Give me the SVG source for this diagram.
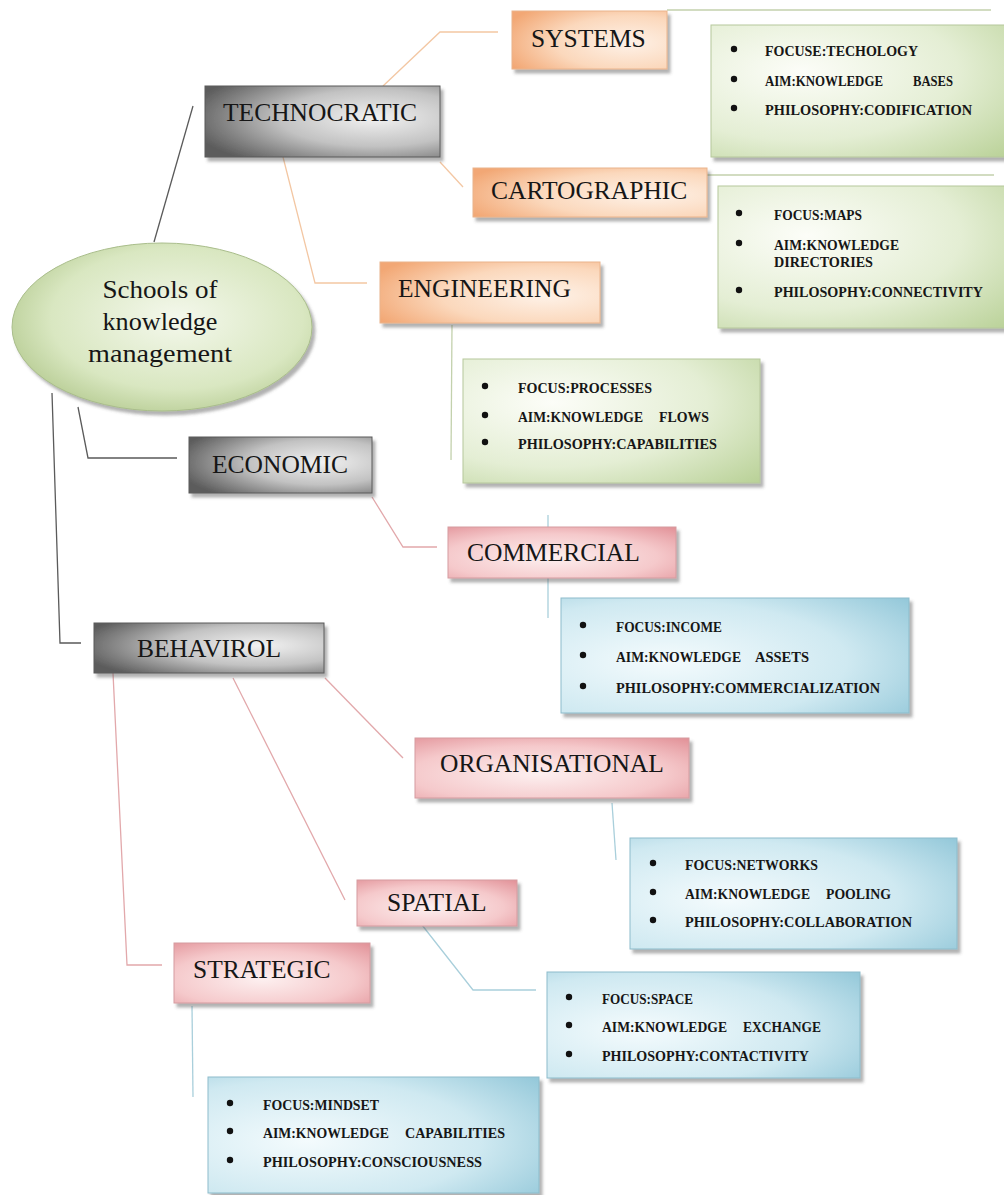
<svg xmlns="http://www.w3.org/2000/svg" width="1004" height="1195" viewBox="0 0 1004 1195">
  <defs>
    <radialGradient id="gGray" cx="0.72" cy="0.45" r="0.8">
      <stop offset="0" stop-color="#f2f2f2"/>
      <stop offset="0.5" stop-color="#c2c2c2"/>
      <stop offset="1" stop-color="#5c5c5c"/>
    </radialGradient>
    <radialGradient id="gOrange" cx="0.75" cy="0.55" r="0.85">
      <stop offset="0" stop-color="#fef2e8"/>
      <stop offset="0.55" stop-color="#fbd8bc"/>
      <stop offset="1" stop-color="#f2a774"/>
    </radialGradient>
    <radialGradient id="gPink" cx="0.45" cy="0.6" r="0.85">
      <stop offset="0" stop-color="#fdf0f0"/>
      <stop offset="0.55" stop-color="#f5c9cb"/>
      <stop offset="1" stop-color="#df8a91"/>
    </radialGradient>
    <radialGradient id="gGreen" cx="0.3" cy="0.35" r="0.95">
      <stop offset="0" stop-color="#fcfdf8"/>
      <stop offset="0.55" stop-color="#e4eed4"/>
      <stop offset="1" stop-color="#b9d197"/>
    </radialGradient>
    <radialGradient id="gBlue" cx="0.3" cy="0.55" r="0.95">
      <stop offset="0" stop-color="#f4fbfd"/>
      <stop offset="0.55" stop-color="#cfe9f1"/>
      <stop offset="1" stop-color="#89c2d5"/>
    </radialGradient>
    <radialGradient id="gRoot" cx="0.55" cy="0.45" r="0.6">
      <stop offset="0" stop-color="#f4f8ec"/>
      <stop offset="0.7" stop-color="#d9e7c1"/>
      <stop offset="1" stop-color="#b8cd95"/>
    </radialGradient>
    <filter id="shadow" x="-10%" y="-10%" width="125%" height="135%">
      <feDropShadow dx="3" dy="4" stdDeviation="1.5" flood-color="#555" flood-opacity="0.45"/>
    </filter>
  </defs>
  <style>
    .lbl { font-family: "Liberation Serif", "Times New Roman", serif; font-size: 25.5px; fill: #161616; }
    .root { font-family: "Liberation Serif", "Times New Roman", serif; font-size: 25px; fill: #161616; text-anchor: middle; }
    .it { font-family: "Liberation Serif", "Times New Roman", serif; font-size: 14.5px; font-weight: bold; fill: #161616; }
    .gray { fill: url(#gGray); stroke: #5a5a5a; stroke-width: 1; filter: url(#shadow); }
    .orange { fill: url(#gOrange); stroke: #eab48c; stroke-width: 1; filter: url(#shadow); }
    .pink { fill: url(#gPink); stroke: #d59ca0; stroke-width: 1; filter: url(#shadow); }
    .green { fill: url(#gGreen); stroke: #b6c79c; stroke-width: 1; filter: url(#shadow); }
    .blue { fill: url(#gBlue); stroke: #8dbccb; stroke-width: 1; filter: url(#shadow); }
    .dot { fill: #111; }
    .c { fill: none; stroke-width: 1.3; }
    .cGray { stroke: #5a5a5a; }
    .cOrange { stroke: #f3c7a3; }
    .cGreen { stroke: #c3d1ad; }
    .cPink { stroke: #e2a8ab; }
    .cBlue { stroke: #a9cfdb; }
  </style>
  <rect width="1004" height="1195" fill="#ffffff"/>

  <!-- connectors -->
  <g id="connectors">
    <path class="c cGray" d="M154,242 L193,106"/>
    <path class="c cGray" d="M78,407 L88,458 L177,458"/>
    <path class="c cGray" d="M52,393 L60,643 L81,643"/>
    <path class="c cOrange" d="M383,86 L440,32 L498,32"/>
    <path class="c cOrange" d="M440,162 L463,187"/>
    <path class="c cOrange" d="M283,157 L315,283 L367,283"/>
    <path class="c cGreen" d="M667,10 L991,10"/>
    <path class="c cGreen" d="M707,175 L994,175"/>
    <path class="c cGreen" d="M452,325 L451,460"/>
    <path class="c cPink" d="M372,497 L403,547 L437,547"/>
    <path class="c cBlue" d="M548,515 L548,618"/>
    <path class="c cPink" d="M325,678 L403,758"/>
    <path class="c cPink" d="M233,678 L345,900"/>
    <path class="c cPink" d="M113,673 L127,965 L162,965"/>
    <path class="c cBlue" d="M612,803 L616,860"/>
    <path class="c cBlue" d="M422,925 L473,990 L536,990"/>
    <path class="c cBlue" d="M192,1006 L193,1097"/>
  </g>

  <!-- root -->
  <g id="root">
    <ellipse cx="162" cy="327" rx="150" ry="84" fill="url(#gRoot)" stroke="#a9bd8b" stroke-width="1" filter="url(#shadow)"/>
    <text class="root" x="160" y="298" textLength="115" lengthAdjust="spacingAndGlyphs">Schools of</text>
    <text class="root" x="160" y="330" textLength="115" lengthAdjust="spacingAndGlyphs">knowledge</text>
    <text class="root" x="160" y="362" textLength="144" lengthAdjust="spacingAndGlyphs">management</text>
  </g>

  <!-- main schools -->
  <g id="technocratic">
    <rect class="gray" x="205" y="86" width="235" height="71"/>
    <text class="lbl" x="223" y="121">TECHNOCRATIC</text>
  </g>
  <g id="economic">
    <rect class="gray" x="189" y="437" width="183" height="56"/>
    <text class="lbl" x="212" y="473">ECONOMIC</text>
  </g>
  <g id="behavirol">
    <rect class="gray" x="94" y="623" width="230" height="50"/>
    <text class="lbl" x="137" y="657">BEHAVIROL</text>
  </g>

  <!-- technocratic schools -->
  <g id="systems">
    <rect class="orange" x="512" y="11" width="155" height="58"/>
    <text class="lbl" x="531" y="47">SYSTEMS</text>
  </g>
  <g id="cartographic">
    <rect class="orange" x="473" y="168" width="234" height="49"/>
    <text class="lbl" x="491" y="199">CARTOGRAPHIC</text>
  </g>
  <g id="engineering">
    <rect class="orange" x="380" y="262" width="220" height="61"/>
    <text class="lbl" x="398" y="297">ENGINEERING</text>
  </g>

  <!-- economic / behavioural schools -->
  <g id="commercial">
    <rect class="pink" x="448" y="527" width="228" height="51"/>
    <text class="lbl" x="467" y="561">COMMERCIAL</text>
  </g>
  <g id="organisational">
    <rect class="pink" x="415" y="738" width="274" height="60"/>
    <text class="lbl" x="440" y="772">ORGANISATIONAL</text>
  </g>
  <g id="spatial">
    <rect class="pink" x="357" y="880" width="160" height="46"/>
    <text class="lbl" x="387" y="911">SPATIAL</text>
  </g>
  <g id="strategic">
    <rect class="pink" x="174" y="943" width="196" height="60"/>
    <text class="lbl" x="193" y="978">STRATEGIC</text>
  </g>

  <!-- detail panels -->
  <g id="systems-details">
    <rect class="green" x="711" y="25" width="300" height="132"/>
    <circle class="dot" cx="734" cy="49" r="3.2"/>
    <circle class="dot" cx="734" cy="79" r="3.2"/>
    <circle class="dot" cx="734" cy="108" r="3.2"/>
    <text class="it" x="765" y="56" textLength="153" lengthAdjust="spacingAndGlyphs">FOCUSE:TECHOLOGY</text>
    <text class="it" y="86"><tspan x="765" textLength="118" lengthAdjust="spacingAndGlyphs">AIM:KNOWLEDGE</tspan><tspan x="913" textLength="40" lengthAdjust="spacingAndGlyphs">BASES</tspan></text>
    <text class="it" x="765" y="115" textLength="207" lengthAdjust="spacingAndGlyphs">PHILOSOPHY:CODIFICATION</text>
  </g>
  <g id="cartographic-details">
    <rect class="green" x="718" y="186" width="295" height="142"/>
    <circle class="dot" cx="739" cy="213" r="3.2"/>
    <circle class="dot" cx="739" cy="243" r="3.2"/>
    <circle class="dot" cx="739" cy="290" r="3.2"/>
    <text class="it" x="774" y="220" textLength="88" lengthAdjust="spacingAndGlyphs">FOCUS:MAPS</text>
    <text class="it" x="774" y="250" textLength="125" lengthAdjust="spacingAndGlyphs">AIM:KNOWLEDGE</text>
    <text class="it" x="774" y="267" textLength="99" lengthAdjust="spacingAndGlyphs">DIRECTORIES</text>
    <text class="it" x="774" y="297" textLength="209" lengthAdjust="spacingAndGlyphs">PHILOSOPHY:CONNECTIVITY</text>
  </g>
  <g id="engineering-details">
    <rect class="green" x="463" y="359" width="297" height="124"/>
    <circle class="dot" cx="485" cy="386" r="3.2"/>
    <circle class="dot" cx="485" cy="415" r="3.2"/>
    <circle class="dot" cx="485" cy="442" r="3.2"/>
    <text class="it" x="518" y="393" textLength="134" lengthAdjust="spacingAndGlyphs">FOCUS:PROCESSES</text>
    <text class="it" y="422"><tspan x="518" textLength="125" lengthAdjust="spacingAndGlyphs">AIM:KNOWLEDGE</tspan><tspan x="659" textLength="50" lengthAdjust="spacingAndGlyphs">FLOWS</tspan></text>
    <text class="it" x="518" y="449" textLength="199" lengthAdjust="spacingAndGlyphs">PHILOSOPHY:CAPABILITIES</text>
  </g>
  <g id="commercial-details">
    <rect class="blue" x="561" y="598" width="348" height="115"/>
    <circle class="dot" cx="583" cy="625" r="3.2"/>
    <circle class="dot" cx="583" cy="655" r="3.2"/>
    <circle class="dot" cx="583" cy="686" r="3.2"/>
    <text class="it" x="616" y="632" textLength="106" lengthAdjust="spacingAndGlyphs">FOCUS:INCOME</text>
    <text class="it" y="662"><tspan x="616" textLength="125" lengthAdjust="spacingAndGlyphs">AIM:KNOWLEDGE</tspan><tspan x="755" textLength="54" lengthAdjust="spacingAndGlyphs">ASSETS</tspan></text>
    <text class="it" x="616" y="693" textLength="264" lengthAdjust="spacingAndGlyphs">PHILOSOPHY:COMMERCIALIZATION</text>
  </g>
  <g id="organisational-details">
    <rect class="blue" x="630" y="838" width="327" height="111"/>
    <circle class="dot" cx="653" cy="863" r="3.2"/>
    <circle class="dot" cx="653" cy="892" r="3.2"/>
    <circle class="dot" cx="653" cy="920" r="3.2"/>
    <text class="it" x="685" y="870" textLength="133" lengthAdjust="spacingAndGlyphs">FOCUS:NETWORKS</text>
    <text class="it" y="899"><tspan x="685" textLength="125" lengthAdjust="spacingAndGlyphs">AIM:KNOWLEDGE</tspan><tspan x="826" textLength="65" lengthAdjust="spacingAndGlyphs">POOLING</tspan></text>
    <text class="it" x="685" y="927" textLength="227" lengthAdjust="spacingAndGlyphs">PHILOSOPHY:COLLABORATION</text>
  </g>
  <g id="spatial-details">
    <rect class="blue" x="547" y="972" width="313" height="106"/>
    <circle class="dot" cx="569" cy="997" r="3.2"/>
    <circle class="dot" cx="569" cy="1025" r="3.2"/>
    <circle class="dot" cx="569" cy="1054" r="3.2"/>
    <text class="it" x="602" y="1004" textLength="91" lengthAdjust="spacingAndGlyphs">FOCUS:SPACE</text>
    <text class="it" y="1032"><tspan x="602" textLength="125" lengthAdjust="spacingAndGlyphs">AIM:KNOWLEDGE</tspan><tspan x="743" textLength="78" lengthAdjust="spacingAndGlyphs">EXCHANGE</tspan></text>
    <text class="it" x="602" y="1061" textLength="207" lengthAdjust="spacingAndGlyphs">PHILOSOPHY:CONTACTIVITY</text>
  </g>
  <g id="strategic-details">
    <rect class="blue" x="208" y="1077" width="331" height="116"/>
    <circle class="dot" cx="230" cy="1103" r="3.2"/>
    <circle class="dot" cx="230" cy="1131" r="3.2"/>
    <circle class="dot" cx="230" cy="1160" r="3.2"/>
    <text class="it" x="263" y="1110" textLength="116" lengthAdjust="spacingAndGlyphs">FOCUS:MINDSET</text>
    <text class="it" y="1138"><tspan x="263" textLength="126" lengthAdjust="spacingAndGlyphs">AIM:KNOWLEDGE</tspan><tspan x="405" textLength="100" lengthAdjust="spacingAndGlyphs">CAPABILITIES</tspan></text>
    <text class="it" x="263" y="1167" textLength="219" lengthAdjust="spacingAndGlyphs">PHILOSOPHY:CONSCIOUSNESS</text>
  </g>
</svg>
